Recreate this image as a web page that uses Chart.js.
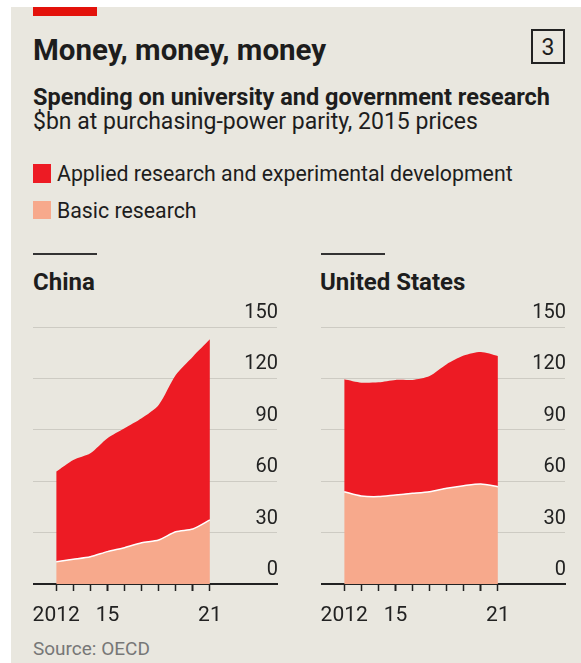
<!DOCTYPE html>
<html>
<head>
<meta charset="utf-8">
<script src="https://cdn.jsdelivr.net/npm/chart.js@4"></script>
<style>
  html, body { margin: 0; padding: 0; background: #fff; }
  body { width: 581px; height: 663px; position: relative; overflow: hidden; font-family: Roboto, sans-serif; color: #1d1d1d; }
  .card { position: absolute; left: 11px; top: 7px; width: 570px; height: 656px; background: #e9e7df; }
  .t { position: absolute; line-height: 1; white-space: nowrap; }
  .panel { position: absolute; top: 290px; width: 250px; height: 345px; }
</style>
</head>
<body>
<div class="card"></div>
<div style="position:absolute;left:33px;top:7px;width:64px;height:9px;background:#e3120b"></div>
<div class="t" style="left:33px;top:36px;font-size:29.5px;font-weight:700">Money, money, money</div>
<div style="position:absolute;left:531px;top:29px;width:30px;height:31px;border:2px solid #222;"></div>
<div class="t" style="left:531px;top:36px;width:34px;text-align:center;font-size:23px">3</div>
<div class="t" style="left:33px;top:86px;font-size:23.5px;font-weight:700">Spending on university and government research</div>
<div class="t" style="left:33px;top:110px;font-size:23px">$bn at purchasing-power parity, 2015 prices</div>
<div style="position:absolute;left:33px;top:164px;width:18px;height:19px;background:#ed1b24"></div>
<div class="t" style="left:57px;top:163px;font-size:21.3px">Applied research and experimental development</div>
<div style="position:absolute;left:33px;top:201px;width:18px;height:18px;background:#f7a98c"></div>
<div class="t" style="left:57px;top:200px;font-size:21.3px">Basic research</div>

<div style="position:absolute;left:33px;top:253px;width:64px;height:2px;background:#333"></div>
<div class="t" style="left:33px;top:270px;font-size:24px;font-weight:700">China</div>
<div style="position:absolute;left:321px;top:253px;width:64px;height:2px;background:#333"></div>
<div class="t" style="left:320px;top:270px;font-size:24px;font-weight:700">United States</div>

<div class="panel" style="left:33px"><canvas id="chart-cn" width="250" height="345"></canvas></div>
<div class="panel" style="left:321px"><canvas id="chart-us" width="250" height="345"></canvas></div>

<div class="t" style="left:33px;top:639px;font-size:19px;color:#777">Source: OECD</div>

<script>
const years = [2012, 2013, 2014, 2015, 2016, 2017, 2018, 2019, 2020, 2021];
const yTicks = [0, 30, 60, 90, 120, 150];

// $bn
const chinaBasic = [13.0, 14.4, 15.9, 18.9, 21.2, 24.1, 25.7, 30.5, 32.1, 37.4];
const chinaApplied = [52.6, 58.0, 60.4, 66.2, 69.7, 72.6, 78.8, 91.5, 100.6, 105.4];
const usBasic = [53.9, 51.4, 51.0, 52.0, 52.9, 53.9, 55.9, 57.4, 58.4, 56.8];
const usApplied = [65.6, 66.1, 66.7, 67.1, 66.2, 67.5, 72.4, 75.9, 77.0, 76.3];

const RED = "#ed1b24";
const PINK = "#f7a98c";
const INK = "#222";

function yearLabel(v) {
  if (v === 2012) return "2012";
  if (v === 2015 || v === 2021) return String(v).slice(2);
  return "";
}

function makeChart(id, basic, applied) {
  return new Chart(document.getElementById(id), {
    type: "line",
    data: {
      datasets: [{
        label: "Basic research",
        data: years.map((y, i) => ({ x: y, y: basic[i] })),
        fill: "origin",
        backgroundColor: PINK,
        borderColor: "#fff",
        borderWidth: 1.5,
        pointRadius: 0,
        tension: 0.25
      }, {
        label: "Applied research and experimental development",
        data: years.map((y, i) => ({ x: y, y: applied[i] })),
        fill: "-1",
        backgroundColor: RED,
        borderWidth: 0,
        borderColor: RED,
        pointRadius: 0,
        tension: 0.25
      }]
    },
    options: {
      responsive: false,
      animation: false,
      layout: { padding: { top: 37, right: 6, bottom: 9, left: 0 } },
      plugins: { legend: { display: false }, tooltip: { enabled: false } },
      scales: {
        x: {
          type: "linear",
          min: 2010.64,
          max: 2024.93,
          z: 1,
          afterBuildTicks: (s) => { s.ticks = years.map(v => ({ value: v })); },
          afterFit: (s) => { s.height = 42; s.paddingLeft = 0; s.paddingRight = 0; },
          ticks: {
            autoSkip: false,
            maxRotation: 0,
            padding: 12,
            color: INK,
            font: { family: "Roboto", size: 21 },
            callback: (v) => yearLabel(v)
          },
          grid: {
            drawOnChartArea: false,
            drawTicks: true,
            tickLength: 7,
            tickColor: INK,
            tickWidth: (c) => (c.tick && c.tick.value % 5 === 0) ? 2 : 1.5
          },
          border: { display: true, color: INK, width: 2 }
        },
        y: {
          position: "right",
          stacked: true,
          min: 0,
          max: 150,
          afterBuildTicks: (s) => { s.ticks = yTicks.map(v => ({ value: v })); },
          afterFit: (s) => { s.width = 0; s.paddingTop = 0; s.paddingBottom = 0; },
          ticks: {
            mirror: true,
            padding: 1,
            labelOffset: -14,
            color: INK,
            font: { family: "Roboto", size: 20 }
          },
          grid: { color: "#cdcbc3", lineWidth: 1, drawTicks: false },
          border: { display: false }
        }
      }
    }
  });
}

makeChart("chart-cn", chinaBasic, chinaApplied);
makeChart("chart-us", usBasic, usApplied);
</script>
</body>
</html>
